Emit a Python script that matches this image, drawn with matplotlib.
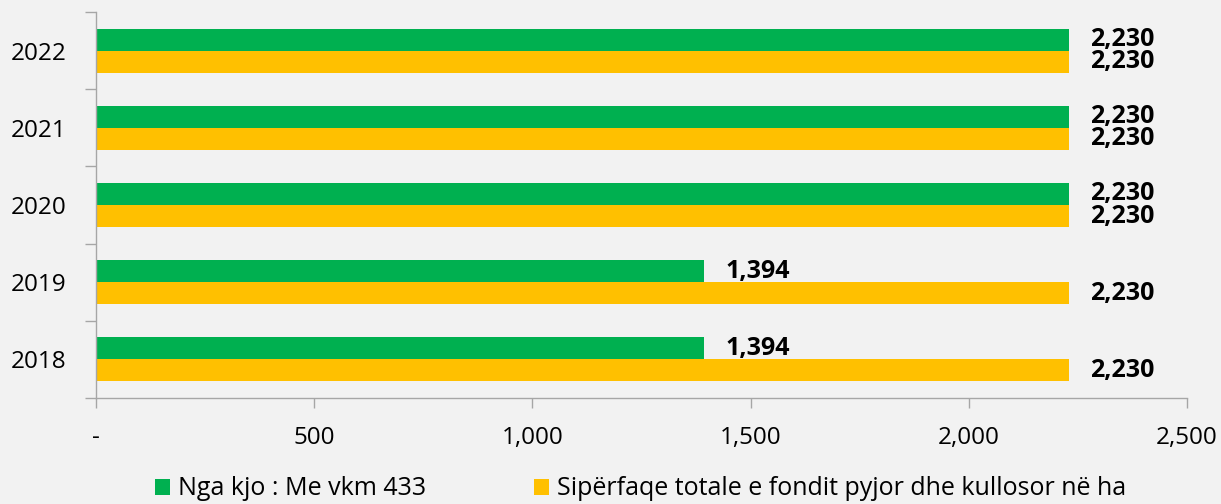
import numpy as np
import matplotlib.pyplot as plt
from matplotlib.ticker import FuncFormatter, FixedLocator

plt.rcParams['font.family'] = ['Open Sans', 'DejaVu Sans']

# data (bottom to top)
years = ['2018', '2019', '2020', '2021', '2022']
vkm_433 = [1394, 1394, 2230, 2230, 2230]
total_area = [2230, 2230, 2230, 2230, 2230]

series_names = ['Nga kjo : Me vkm 433',
                'Sipërfaqe totale e fondit pyjor dhe kullosor në ha']
colors = ['#00B050', '#FFC000']
bg = '#F2F2F2'
axis_grey = '#A6A6A6'
fs = 17.5

fig = plt.figure(figsize=(12.21, 5.04), dpi=100, facecolor=bg)
ax = fig.add_axes([0.0786, 0.2103, 0.8936, 0.7659], facecolor=bg)

y = np.arange(len(years))
h = 0.286

ax.barh(y + h / 2, vkm_433, height=h, color=colors[0], label=series_names[0])
ax.barh(y - h / 2, total_area, height=h, color=colors[1], label=series_names[1])

# value labels
for yi, v in zip(y, vkm_433):
    ax.annotate(f'{v:,}', (v, yi + h / 2), xytext=(15, 0), textcoords='offset points',
                va='center', ha='left', fontsize=18, fontweight='bold')
for yi, v in zip(y, total_area):
    ax.annotate(f'{v:,}', (v, yi - h / 2), xytext=(15, 0), textcoords='offset points',
                va='center', ha='left', fontsize=18, fontweight='bold')

ax.set_xlim(0, 2500)
ax.set_ylim(-0.5, len(years) - 0.5)

ax.set_xticks(np.arange(0, 2501, 500))
ax.xaxis.set_major_formatter(FuncFormatter(lambda v, p: '-' if v == 0 else f'{int(v):,}'))
ax.tick_params(axis='x', length=7, width=1, color=axis_grey, pad=13, labelsize=fs)

ax.set_yticks(y)
ax.set_yticklabels(years)
ax.yaxis.set_minor_locator(FixedLocator(np.arange(-0.5, len(years), 1.0)))
ax.tick_params(axis='y', which='major', length=0, pad=21, labelsize=fs)
ax.tick_params(axis='y', which='minor', length=8, width=1, color=axis_grey)

for s in ['top', 'right']:
    ax.spines[s].set_visible(False)
for s in ['left', 'bottom']:
    ax.spines[s].set_color(axis_grey)
    ax.spines[s].set_linewidth(1)

fig.legend(loc='center left', bbox_to_anchor=(0.127, 0.03), ncol=2, frameon=False,
           fontsize=18, handlelength=0.6, handleheight=0.6, handletextpad=0.3,
           columnspacing=4.35, borderaxespad=0, borderpad=0)

fig.savefig('out.png', dpi=100, facecolor=bg)
